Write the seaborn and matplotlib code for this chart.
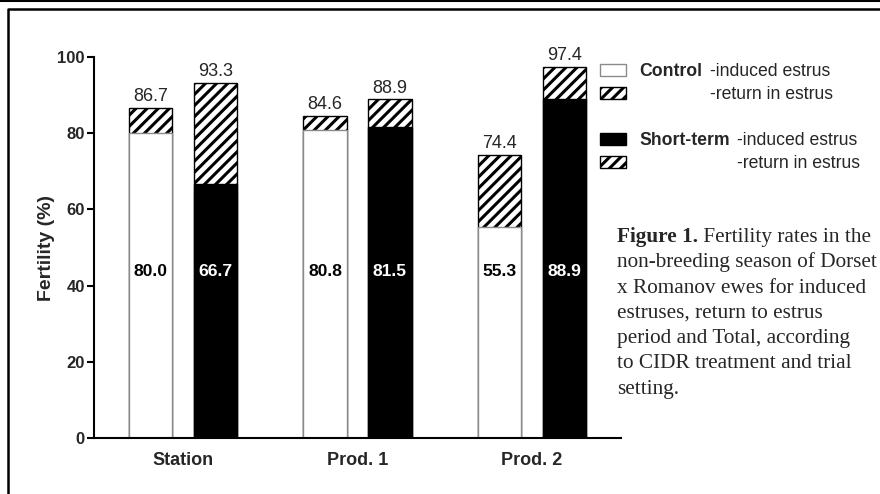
import matplotlib
matplotlib.use("Agg")
import matplotlib.pyplot as plt
from matplotlib.patches import Patch
from matplotlib.lines import Line2D
import seaborn as sns
import pandas as pd

# data
trials = ["Station", "Prod. 1", "Prod. 2"]
treatments = ["Control", "Short-term"]
control_induced = [80.0, 80.8, 55.3]
control_total = [86.7, 84.6, 74.4]
short_induced = [66.7, 81.5, 88.9]
short_total = [93.3, 88.9, 97.4]
y_ticks = [0, 20, 40, 60, 80, 100]

caption_head = "Figure 1."
caption_lines = [
    " Fertility rates in the",
    "non-breeding season of Dorset",
    "x Romanov ewes for induced",
    "estruses, return to estrus",
    "period and Total, according",
    "to CIDR treatment and trial",
    "setting.",
]

df = pd.DataFrame({
    "trial": trials * 2,
    "treatment": [treatments[0]] * 3 + [treatments[1]] * 3,
    "induced": control_induced + short_induced,
    "total": control_total + short_total,
})

sns.set_style("ticks")
plt.rcParams["font.family"] = ["Liberation Sans", "DejaVu Sans"]
plt.rcParams["hatch.linewidth"] = 2.2

W, H = 880, 494
fig = plt.figure(figsize=(W / 100, H / 100), dpi=100)
ax = fig.add_axes([94 / W, 1 - 438 / H, (621 - 94) / W, (438 - 57) / H])

# total (hatched part shows above the induced bar)
sns.barplot(data=df, x="trial", y="total", hue="treatment", hue_order=treatments,
            palette=["white", "white"], saturation=1, width=0.744, gap=0.33,
            errorbar=None, linewidth=1, hatch="///", legend=False, ax=ax)
# induced estrus
sns.barplot(data=df, x="trial", y="induced", hue="treatment", hue_order=treatments,
            palette=["white", "black"], saturation=1, width=0.744, gap=0.33,
            errorbar=None, linewidth=1, legend=False, ax=ax)

for bar in list(ax.containers[0]) + list(ax.containers[1]):
    bar.set_edgecolor("black")
for bar in ax.containers[2]:
    bar.set_edgecolor("#8a8a8a")
for bar in ax.containers[3]:
    bar.set_edgecolor("black")

for cont in ax.containers[:2]:
    ax.bar_label(cont, fmt="%.1f", padding=2, fontsize=13)

for cont, vals, col in [(ax.containers[2], control_induced, "black"),
                        (ax.containers[3], short_induced, "white")]:
    for bar, v in zip(cont, vals):
        ax.text(bar.get_x() + bar.get_width() / 2, 43.8, f"{v:.1f}",
                ha="center", va="center", color=col, fontsize=12.6, fontweight="bold")

ax.set_xlim(-0.51, 2.51)
ax.set_ylim(0, 100)
ax.set_yticks(y_ticks, labels=[str(t) for t in y_ticks], fontweight="bold", fontsize=12)
ax.set_xticks(range(len(trials)), labels=trials, fontweight="bold", fontsize=13)
ax.set_xlabel("")
ax.set_ylabel("Fertility (%)", fontweight="bold", fontsize=14, labelpad=2)
ax.tick_params(axis="y", length=5, width=1.5, pad=1.5, color="black")
ax.tick_params(axis="x", length=0, pad=10)
sns.despine(ax=ax)
for s in ["left", "bottom"]:
    ax.spines[s].set_linewidth(1.5)
    ax.spines[s].set_color("black")

# legend
legend_fs = 12.7
h_ctrl = Patch(facecolor="white", edgecolor="#8a8a8a", linewidth=1)
h_ret = Patch(facecolor="white", edgecolor="black", hatch="///", linewidth=1)
h_short = Patch(facecolor="black", edgecolor="black", linewidth=1)
leg_kw = dict(loc="upper left", bbox_transform=fig.transFigure, frameon=False,
              prop={"weight": "bold", "size": legend_fs, "family": "Liberation Sans"},
              handlelength=1.45, handleheight=0.65, handletextpad=0.8,
              labelspacing=0.35, borderpad=0, borderaxespad=0)
leg1 = ax.legend([h_ctrl, h_ret], [treatments[0], " "], bbox_to_anchor=(600 / W, 1 - 63 / H), **leg_kw)
ax.add_artist(leg1)
leg2 = ax.legend([h_short, h_ret], [treatments[1], " "], bbox_to_anchor=(600 / W, 1 - 132 / H), **leg_kw)

for leg in (leg1, leg2):
    t0, t1 = leg.get_texts()
    a = ax.annotate("-induced estrus", xy=(1, 0), xycoords=t0, xytext=(7, 0),
                    textcoords="offset pixels", va="bottom", ha="left",
                    fontsize=legend_fs, zorder=6)
    ax.annotate("-return in estrus", xy=(0, 0), xycoords=(a, t1), va="bottom",
                ha="left", fontsize=legend_fs, zorder=6)

# caption
serif = ["Liberation Serif", "DejaVu Serif"]
cap_fs = 15.3
for i, line in enumerate(caption_lines):
    y = 1 - (242 + i * 25.3) / H
    if i == 0:
        head = fig.text(617 / W, y, caption_head, family=serif, fontweight="bold",
                        fontsize=cap_fs, va="baseline")
        ax.annotate(line, xy=(1, 0), xycoords=head, va="bottom", ha="left",
                    family=serif, fontsize=cap_fs, zorder=6)
    else:
        fig.text(617 / W, y, line, family=serif, fontsize=cap_fs, va="baseline")

# page frame
fig.add_artist(Line2D([0, 1], [1 - 1 / H, 1 - 1 / H], transform=fig.transFigure,
                      color="black", lw=1.5))
fig.add_artist(Line2D([8 / W, 8 / W, 1], [0, 1 - 8.7 / H, 1 - 8.7 / H],
                      transform=fig.transFigure, color="black", lw=1.8))

fig.canvas.draw()
fig.savefig("out.png", dpi=100)
